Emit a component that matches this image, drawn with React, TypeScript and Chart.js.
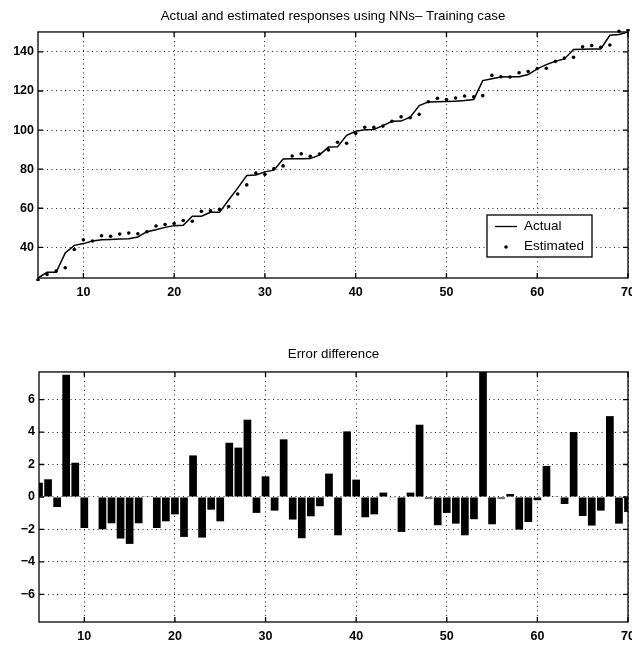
import React, { useEffect, useRef } from "react";
import { Chart, registerables } from "chart.js";

Chart.register(...registerables);

// ---------------- data ----------------
const sampleIndex = [
  5, 6, 7, 8, 9, 10, 11, 12, 13, 14, 15, 16, 17, 18, 19, 20, 21, 22, 23, 24, 25,
  26, 27, 28, 29, 30, 31, 32, 33, 34, 35, 36, 37, 38, 39, 40, 41, 42, 43, 44, 45,
  46, 47, 48, 49, 50, 51, 52, 53, 54, 55, 56, 57, 58, 59, 60, 61, 62, 63, 64, 65,
  66, 67, 68, 69, 70,
];

const actualResponse = [
  24.3, 27.2, 27.2, 37.1, 41.0, 41.9, 43.2, 43.9, 44.0, 44.2, 44.4, 45.3, 48.0,
  49.0, 50.2, 51.1, 51.3, 55.9, 55.9, 57.9, 57.9, 64.2, 70.3, 76.7, 77.0, 78.6,
  79.5, 85.2, 85.3, 85.3, 85.4, 87.2, 91.3, 91.4, 97.3, 99.4, 100.2, 100.3, 102.3,
  104.5, 104.6, 106.6, 112.5, 114.4, 114.5, 114.6, 114.8, 115.1, 115.6, 125.3,
  126.3, 127.2, 127.3, 127.3, 128.4, 131.3, 133.5, 135.2, 136.4, 141.2, 141.4,
  141.5, 141.5, 148.5, 148.9, 150.2,
];

const estimatedResponse = [
  23.42, 26.11, 27.82, 29.57, 38.89, 43.81, 43.23, 45.89, 45.62, 46.76, 47.29,
  46.92, 47.98, 50.91, 51.7, 52.17, 53.76, 53.34, 58.4, 58.68, 59.4, 60.86,
  67.26, 71.94, 77.98, 77.33, 80.34, 81.65, 86.69, 87.84, 86.59, 87.77, 89.86,
  93.76, 93.26, 98.33, 101.45, 101.37, 102.03, 104.54, 106.75, 106.33, 108.05,
  114.5, 116.24, 115.58, 116.44, 117.46, 116.97, 117.6, 127.98, 127.3, 127.12,
  129.31, 129.94, 131.5, 131.59, 135.16, 136.83, 137.2, 142.57, 143.26, 142.34,
  143.52, 150.54, 151.12,
];

const errorDifference = [
  0.88, 1.09, -0.62, 7.53, 2.11, -1.91, 0.03, -1.99, -1.62, -2.56, -2.89, -1.62,
  0.02, -1.91, -1.5, -1.07, -2.46, 2.56, -2.5, -0.78, -1.5, 3.34, 3.04, 4.76,
  -0.98, 1.27, -0.84, 3.55, -1.39, -2.54, -1.19, -0.57, 1.44, -2.36, 4.04, 1.07,
  -1.25, -1.07, 0.27, -0.04, -2.15, 0.27, 4.45, -0.1, -1.74, -0.98, -1.64, -2.36,
  -1.37, 7.7, -1.68, -0.1, 0.18, -2.01, -1.54, -0.2, 1.91, 0.04, -0.43, 4.0,
  -1.17, -1.76, -0.84, 4.98, -1.64, -0.92,
];

const xTicks = [10, 20, 30, 40, 50, 60, 70];
const topYTicks = [40, 60, 80, 100, 120, 140];
const bottomYTicks = [-6, -4, -2, 0, 2, 4, 6];
const xRange = [5, 70];
const topYRange = [24.3, 150.2];
const bottomYRange = [-7.7, 7.7];

const topTitle = "Actual and estimated responses using NNs\u2013 Training case";
const bottomTitle = "Error difference";
const seriesLabels = ["Actual", "Estimated"];
const errorLabel = "Error difference";

const FONT = "'Liberation Sans', Arial, Helvetica, sans-serif";

// ---------------- plugins ----------------
const framePlugin = {
  id: "matlabFrame",
  afterDraw(chart: any) {
    const { ctx, chartArea } = chart;
    const { left, top, right, bottom } = chartArea;
    const xs = chart.scales.x;
    const ys = chart.scales.y;
    ctx.save();
    ctx.setLineDash([]);
    ctx.strokeStyle = "#000";
    ctx.lineWidth = 1.3;
    ctx.strokeRect(left, top, right - left, bottom - top);
    ctx.beginPath();
    xs.ticks.forEach((t: any) => {
      const p = xs.getPixelForValue(t.value);
      ctx.moveTo(p, bottom);
      ctx.lineTo(p, bottom - 5);
      ctx.moveTo(p, top);
      ctx.lineTo(p, top + 5);
    });
    ys.ticks.forEach((t: any) => {
      const p = ys.getPixelForValue(t.value);
      ctx.moveTo(left, p);
      ctx.lineTo(left + 5, p);
      ctx.moveTo(right, p);
      ctx.lineTo(right - 5, p);
    });
    ctx.stroke();
    ctx.restore();
  },
};

const insetLegendPlugin = {
  id: "insetLegend",
  afterDraw(chart: any) {
    const { ctx, chartArea } = chart;
    const ds = chart.data.datasets;
    const w = 105;
    const h = 42;
    const x = chartArea.right - 141;
    const y = chartArea.bottom - 63;
    ctx.save();
    ctx.setLineDash([]);
    ctx.fillStyle = "#fff";
    ctx.fillRect(x, y, w, h);
    ctx.strokeStyle = "#000";
    ctx.lineWidth = 1.3;
    ctx.strokeRect(x, y, w, h);
    ctx.beginPath();
    ctx.moveTo(x + 8, y + 11.5);
    ctx.lineTo(x + 30, y + 11.5);
    ctx.stroke();
    ctx.fillStyle = "#000";
    ctx.beginPath();
    ctx.arc(x + 19, y + 32, 1.8, 0, Math.PI * 2);
    ctx.fill();
    ctx.font = `13.5px ${FONT}`;
    ctx.textBaseline = "middle";
    ctx.textAlign = "left";
    ctx.fillText(ds[0].label, x + 37, y + 11.5);
    ctx.fillText(ds[1].label, x + 37, y + 31.5);
    ctx.restore();
  },
};

// ---------------- helpers ----------------
const gridOpts = {
  color: "rgba(0,0,0,0.85)",
  lineWidth: 1,
  drawTicks: false,
};
const borderOpts = { display: false, dash: [1, 3.5] };
const tickFont = { family: FONT, size: 12.5, weight: "bold" };

function formatTick(v: any) {
  const n = Number(v);
  return n < 0 ? "\u2212" + String(-n) : String(n);
}

function xScale() {
  return {
    type: "linear",
    min: xRange[0],
    max: xRange[1],
    offset: false,
    grid: { ...gridOpts, offset: false },
    border: borderOpts,
    ticks: {
      color: "#000",
      font: tickFont,
      padding: 7,
      maxRotation: 0,
      callback: formatTick,
    },
    afterBuildTicks(axis: any) {
      axis.ticks = xTicks.map((v) => ({ value: v }));
    },
  };
}

function yScale(range: number[], ticks: number[], width: number) {
  return {
    type: "linear",
    min: range[0],
    max: range[1],
    grid: gridOpts,
    border: borderOpts,
    ticks: {
      color: "#000",
      font: tickFont,
      padding: 4,
      callback: formatTick,
    },
    afterBuildTicks(axis: any) {
      axis.ticks = ticks.map((v) => ({ value: v }));
    },
    afterFit(axis: any) {
      axis.width = width;
    },
  };
}

export default function App() {
  const topRef = useRef<HTMLCanvasElement | null>(null);
  const botRef = useRef<HTMLCanvasElement | null>(null);

  useEffect(() => {
    const topX: any = xScale();
    topX.afterFit = (axis: any) => {
      axis.height = 32;
      axis.paddingLeft = 0;
      axis.paddingRight = 0;
    };
    const topChart = new Chart(topRef.current as HTMLCanvasElement, {
      type: "line",
      data: {
        datasets: [
          {
            label: seriesLabels[0],
            data: sampleIndex.map((x, i) => ({ x, y: actualResponse[i] })),
            borderColor: "#000",
            borderWidth: 1.5,
            pointRadius: 0,
            tension: 0,
            fill: false,
          },
          {
            label: seriesLabels[1],
            data: sampleIndex.map((x, i) => ({ x, y: estimatedResponse[i] })),
            showLine: false,
            pointRadius: 1.8,
            pointBackgroundColor: "#000",
            pointBorderWidth: 0,
            borderColor: "#000",
            clip: 3,
          },
        ],
      } as any,
      options: {
        responsive: false,
        animation: false,
        devicePixelRatio: 1,
        layout: { padding: { left: 0, right: 4, top: 0, bottom: 0 } },
        plugins: {
          legend: { display: false },
          tooltip: { enabled: false },
          title: {
            display: true,
            text: topTitle,
            fullSize: false,
            color: "#000",
            font: { family: FONT, size: 13.3, weight: "normal" },
            padding: { top: 8, bottom: 8 },
          },
        },
        scales: {
          x: topX,
          y: yScale(topYRange, topYTicks, 38),
        },
      } as any,
      plugins: [framePlugin, insetLegendPlugin],
    });

    const botX: any = xScale();
    botX.afterFit = (axis: any) => {
      axis.height = 23;
      axis.paddingLeft = 0;
      axis.paddingRight = 0;
    };
    const botChart = new Chart(botRef.current as HTMLCanvasElement, {
      type: "bar",
      data: {
        datasets: [
          {
            label: errorLabel,
            data: sampleIndex.map((x, i) => ({ x, y: errorDifference[i] })),
            backgroundColor: "#000",
            borderWidth: 0,
            barPercentage: 0.85,
            categoryPercentage: 1,
          },
        ],
      } as any,
      options: {
        responsive: false,
        animation: false,
        devicePixelRatio: 1,
        layout: { padding: { left: 0, right: 4, top: 0, bottom: 0 } },
        plugins: {
          legend: { display: false },
          tooltip: { enabled: false },
          title: {
            display: true,
            text: bottomTitle,
            fullSize: false,
            color: "#000",
            font: { family: FONT, size: 13.3, weight: "normal" },
            padding: { top: 36, bottom: 10 },
          },
        },
        scales: {
          x: botX,
          y: yScale(bottomYRange, bottomYTicks, 39),
        },
      } as any,
      plugins: [framePlugin],
    });

    return () => {
      topChart.destroy();
      botChart.destroy();
    };
  }, []);

  return (
    <div
      style={{
        position: "absolute",
        left: 0,
        top: 0,
        width: 632,
        height: 645,
        background: "#fff",
        overflow: "hidden",
      }}
    >
      <canvas
        ref={topRef}
        width={632}
        height={310}
        style={{ position: "absolute", left: 0, top: 0, width: 632, height: 310, display: "block" }}
      />
      <canvas
        ref={botRef}
        width={632}
        height={335}
        style={{ position: "absolute", left: 0, top: 310, width: 632, height: 335, display: "block" }}
      />
    </div>
  );
}
